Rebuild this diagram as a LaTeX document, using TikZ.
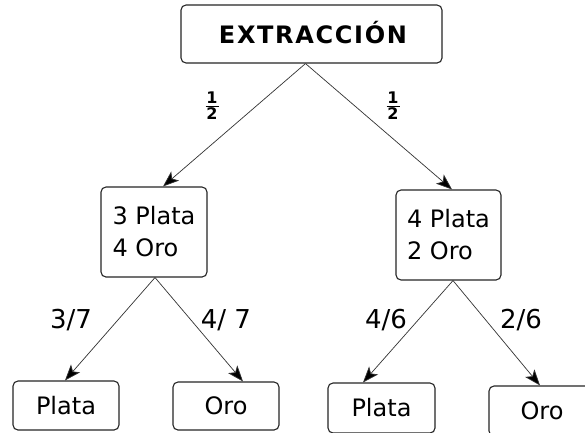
\documentclass[tikz,border=0pt]{standalone}
\usepackage{fontspec}
\setmainfont{DejaVu Sans}
\newfontfamily\extfont[LetterSpace=7]{DejaVu Sans Bold}
\usetikzlibrary{arrows.meta}
\newcommand{\halffrac}{{\fontsize{16}{16}\selectfont\bfseries\begin{tabular}{@{}c@{}}\makebox[13pt]{1}\\[-3pt]\hline\rule{0pt}{13pt}2\end{tabular}}}
\tikzset{
  boxnode/.style={draw=black!85, line width=1.1pt, rounded corners=5pt, inner sep=0pt, rectangle},
  arr/.style={draw=black!80, line width=0.7pt, -{Stealth[length=16pt,width=12pt,inset=4pt,fill=black]}},
  txt/.style={font=\fontsize{24}{32}\selectfont},
  lbl/.style={font=\fontsize{26}{26}\selectfont, inner sep=0pt},
  halfnode/.style={inner sep=0pt}
}
\begin{document}
\begin{tikzpicture}[x=1pt,y=-1pt]
\useasboundingbox[fill=white] (0,0) rectangle (585,432);
\node[boxnode, minimum width=261pt, minimum height=58pt] (top) at (311.5,34) {};
\node[font=\extfont\fontsize{24}{24}\selectfont, inner sep=0pt] (toptxt) at (313,33) {EXTRACCIÓN};
\node[boxnode, minimum width=106pt, minimum height=90pt, txt, align=left] (ml) at (154,232) {3 Plata\\4 Oro};
\node[boxnode, minimum width=105pt, minimum height=90pt, txt, align=left] (mr) at (448.5,235) {4 Plata\\2 Oro};
\node[boxnode, minimum width=106pt, minimum height=49pt, txt] (b1) at (66,405.5) {Plata};
\node[boxnode, minimum width=106pt, minimum height=48pt, txt] (b2) at (226,406) {Oro};
\node[boxnode, minimum width=107pt, minimum height=50pt, txt] (b3) at (381.5,408) {Plata};
\node[boxnode, minimum width=106pt, minimum height=50pt, txt] (b4) at (542,411) {Oro};
\draw[arr] ([xshift=-6pt]top.south) -- ([xshift=9pt]ml.north);
\draw[arr] ([xshift=-6pt]top.south) -- ([xshift=3.5pt]mr.north);
\draw[arr] ([xshift=1pt]ml.south) -- ([xshift=-1pt]b1.north);
\draw[arr] ([xshift=1pt]ml.south) -- ([xshift=17pt]b2.north);
\draw[arr] ([xshift=4.5pt]mr.south) -- ([xshift=-18.5pt]b3.north);
\draw[arr] ([xshift=4.5pt]mr.south) -- ([xshift=-2pt]b4.north);
\node[halfnode] (h1) at (212,108) {\halffrac};
\node[halfnode] (h2) at (393,108) {\halffrac};
\node[lbl] (l1) at (71,320) {3/7};
\node[lbl] (l2) at (226,320) {4/ 7};
\node[lbl] (l3) at (386,320) {4/6};
\node[lbl] (l4) at (521,320) {2/6};
\end{tikzpicture}
\end{document}
